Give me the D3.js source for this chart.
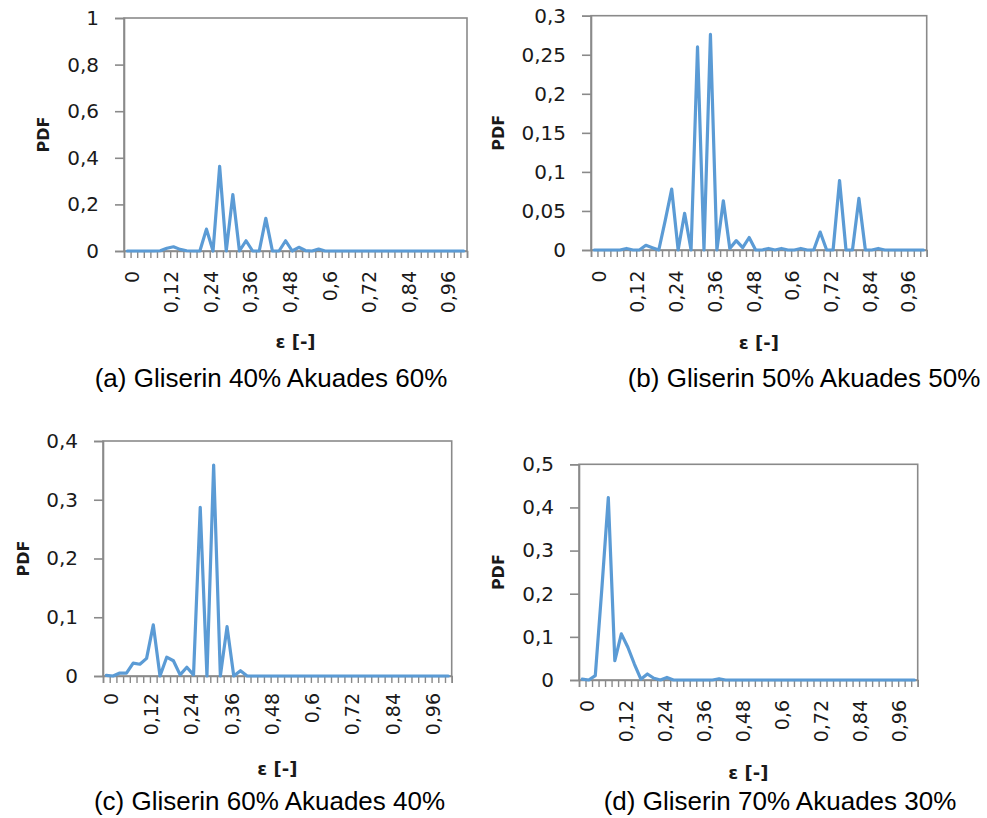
<!DOCTYPE html>
<html>
<head>
<meta charset="utf-8">
<script src="https://cdn.jsdelivr.net/npm/d3@7"></script>
<style>
  html, body { margin: 0; padding: 0; background: #fff; }
  svg { display: block; }
</style>
</head>
<body>
<svg id="chart" width="987" height="818"></svg>
<script>
// ---- DATA ----
const categories = [0,0.02,0.04,0.06,0.08,0.1,0.12,0.14,0.16,0.18,0.2,0.22,0.24,0.26,0.28,0.3,0.32,0.34,0.36,0.38,0.4,0.42,0.44,0.46,0.48,0.5,0.52,0.54,0.56,0.58,0.6,0.62,0.64,0.66,0.68,0.7,0.72,0.74,0.76,0.78,0.8,0.82,0.84,0.86,0.88,0.9,0.92,0.94,0.96,0.98,1,1.02];
const xTickValues = [0,0.12,0.24,0.36,0.48,0.6,0.72,0.84,0.96];
const xTickLabels = ["0","0,12","0,24","0,36","0,48","0,6","0,72","0,84","0,96"];

const pdfA = [0,0,0,0,0,0.001,0.012,0.018,0.007,0.001,0,0,0.094,0,0.363,0,0.242,0,0.044,0,0,0.14,0,0,0.044,0,0.016,0.002,0,0.008,0,0,0,0,0,0,0,0,0,0,0,0,0,0,0,0,0,0,0,0,0,0];
const pdfB = [0,0,0,0,0,0.002,0,0,0.006,0.003,0,0.038,0.078,0,0.047,0,0.26,0,0.276,0,0.063,0.002,0.012,0.003,0.016,0,0,0.002,0,0.002,0,0,0.002,0,0,0.023,0,0,0.089,0,0,0.066,0,0,0.002,0,0,0,0,0,0,0];
const pdfC = [0.001,0,0.005,0.005,0.022,0.02,0.03,0.087,0,0.032,0.026,0.002,0.015,0.002,0.287,0,0.359,0,0.084,0,0.009,0,0,0,0,0,0,0,0,0,0,0,0,0,0,0,0,0,0,0,0,0,0,0,0,0,0,0,0,0,0,0];
const pdfD = [0.002,0,0.01,0.21,0.423,0.045,0.107,0.076,0.037,0.002,0.014,0.004,0,0.006,0,0,0,0,0,0,0,0.003,0,0,0,0,0,0,0,0,0,0,0,0,0,0,0,0,0,0,0,0,0,0,0,0,0,0,0,0,0,0];

const yTicksA = [0,0.2,0.4,0.6,0.8,1];
const yLabelsA = ["0","0,2","0,4","0,6","0,8","1"];
const yTicksB = [0,0.05,0.1,0.15,0.2,0.25,0.3];
const yLabelsB = ["0","0,05","0,1","0,15","0,2","0,25","0,3"];
const yTicksC = [0,0.1,0.2,0.3,0.4];
const yLabelsC = ["0","0,1","0,2","0,3","0,4"];
const yTicksD = [0,0.1,0.2,0.3,0.4,0.5];
const yLabelsD = ["0","0,1","0,2","0,3","0,4","0,5"];

const captions = ["(a) Gliserin 40% Akuades 60%","(b) Gliserin 50% Akuades 50%","(c) Gliserin 60% Akuades 40%","(d) Gliserin 70% Akuades 30%"];
const xTitle = "ε [-]";
const yTitle = "PDF";

// ---- LAYOUT ----
const panels = [
  {values: pdfA, yTicks: yTicksA, yLabels: yLabelsA, caption: captions[0],
   left: 124, right: 467, top: 18, bottom: 251, labelGap: 20,
   titleY: 348, pdfX: 43, capX: 271, capY: 387},
  {values: pdfB, yTicks: yTicksB, yLabels: yLabelsB, caption: captions[1],
   left: 591, right: 926.7, top: 15.7, bottom: 250, labelGap: 20.5,
   titleY: 349, pdfX: 498.5, capX: 804, capY: 387},
  {values: pdfC, yTicks: yTicksC, yLabels: yLabelsC, caption: captions[2],
   left: 103, right: 451.7, top: 441, bottom: 676, labelGap: 17,
   titleY: 775, pdfX: 23, capX: 269.5, capY: 810},
  {values: pdfD, yTicks: yTicksD, yLabels: yLabelsD, caption: captions[3],
   left: 579, right: 917.7, top: 464.3, bottom: 680, labelGap: 20,
   titleY: 779, pdfX: 498.5, capX: 780, capY: 810}
];

const svg = d3.select("#chart");
svg.append("rect").attr("width", 987).attr("height", 818).attr("fill", "#fff");

const axisColor = "#8a8a8a";
const textColor = "#1a1a1a";
const lineColor = "#5b9bd5";
const tickFont = "'DejaVu Sans', Verdana, sans-serif";

panels.forEach(p => {
  const g = svg.append("g");
  const x = d3.scaleBand().domain(categories).range([p.left, p.right]).padding(0);
  const xb = d3.scaleLinear().domain([0, categories.length]).range([p.left, p.right]);
  const yMax = p.yTicks[p.yTicks.length - 1];
  const y = d3.scaleLinear().domain([0, yMax]).range([p.bottom, p.top]);

  // frame
  g.append("rect")
    .attr("x", p.left).attr("y", p.top)
    .attr("width", p.right - p.left).attr("height", p.bottom - p.top)
    .attr("fill", "none").attr("stroke", axisColor).attr("stroke-width", 1.6);

  // y axis
  const ya = g.append("g").attr("transform", `translate(${p.left},0)`)
    .call(d3.axisLeft(y).tickValues(p.yTicks).tickSize(9).tickPadding(16)
      .tickFormat((d, i) => p.yLabels[i]));
  ya.select(".domain").attr("stroke", axisColor).attr("stroke-width", 1.6);
  ya.selectAll(".tick line").attr("stroke", axisColor).attr("stroke-width", 1.6);
  ya.selectAll(".tick text").attr("fill", textColor)
    .style("font-family", tickFont).style("font-size", "20px");

  // x minor tick marks at category boundaries
  const xt = g.append("g").attr("transform", `translate(0,${p.bottom})`)
    .call(d3.axisBottom(xb).tickValues(d3.range(categories.length + 1)).tickSize(7).tickFormat(""));
  xt.select(".domain").attr("stroke", axisColor).attr("stroke-width", 1.6);
  xt.selectAll(".tick line").attr("stroke", axisColor).attr("stroke-width", 1.4);

  // x labels
  const xl = g.append("g").attr("transform", `translate(${x.bandwidth() / 2},${p.bottom})`)
    .call(d3.axisBottom(x).tickValues(xTickValues).tickSize(0)
      .tickFormat((d, i) => xTickLabels[i]));
  xl.select(".domain").remove();
  xl.selectAll(".tick text")
    .attr("transform", "rotate(-90)")
    .attr("x", -p.labelGap).attr("y", 1.5).attr("dy", "0.35em")
    .style("text-anchor", "end")
    .attr("fill", textColor)
    .style("font-family", tickFont).style("font-size", "19px");

  // data line
  const line = d3.line()
    .x((d, i) => x(categories[i]) + x.bandwidth() / 2)
    .y(d => y(d));
  g.append("path").datum(p.values)
    .attr("d", line)
    .attr("fill", "none").attr("stroke", lineColor)
    .attr("stroke-width", 3.2).attr("stroke-linejoin", "round").attr("stroke-linecap", "round");

  // axis titles
  g.append("text")
    .attr("x", (p.left + p.right) / 2).attr("y", p.titleY)
    .attr("text-anchor", "middle").attr("fill", textColor)
    .style("font-family", tickFont).style("font-weight", "bold").style("font-size", "18px")
    .text(xTitle);
  g.append("text")
    .attr("transform", `translate(${p.pdfX},${(p.top + p.bottom) / 2}) rotate(-90)`)
    .attr("dy", "0.35em")
    .attr("text-anchor", "middle").attr("fill", textColor)
    .style("font-family", tickFont).style("font-weight", "bold").style("font-size", "16px")
    .text(yTitle);

  // caption
  g.append("text")
    .attr("x", p.capX).attr("y", p.capY)
    .attr("text-anchor", "middle").attr("fill", "#000")
    .style("font-family", "'Liberation Sans', Arial, sans-serif").style("font-size", "26px")
    .text(p.caption);
});
</script>
</body>
</html>
